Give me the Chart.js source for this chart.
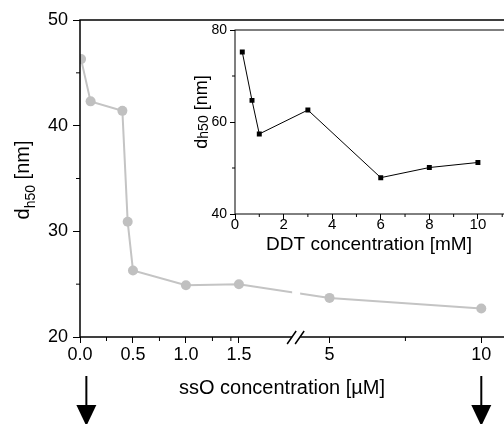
<!DOCTYPE html>
<html>
<head>
<meta charset="utf-8">
<script src="https://cdn.jsdelivr.net/npm/chart.js@4"></script>
<style>
html, body { margin: 0; padding: 0; background: #fff; }
#marco { position: relative; width: 504px; height: 424px; overflow: hidden; background: #fff; }
#principal { position: absolute; left: 0; top: 0; }
#recuadro { position: absolute; left: 180px; top: 10px; }
</style>
</head>
<body>
<div id="marco">
  <canvas id="principal" width="530" height="424"></canvas>
  <canvas id="recuadro" width="350" height="260"></canvas>
</div>
<script>
// grafica principal: ssO
const ssoConc = [0.01, 0.1, 0.4, 0.45, 0.5, 1.0, 1.5, 5, 10];
const ssoDh50 = [46.3, 42.3, 41.4, 30.9, 26.3, 24.9, 25.0, 23.7, 22.7];
const ssoTicks = [0, 0.5, 1, 1.5, 5, 10];
const ssoTickLabels = ['0.0', '0.5', '1.0', '1.5', '5', '10'];
const ssoMinor = [0.25, 0.75, 1.25, 1.75, 7.5];
const dhTicks = [20, 30, 40, 50];
const dhMinor = [25, 35, 45];
const flechasEn = [0.06, 10];

// recuadro: DDT
const ddtConc = [0.3, 0.7, 1, 3, 6, 8, 10];
const ddtDh50 = [75.2, 64.7, 57.4, 62.6, 47.9, 50.1, 51.2];
const ddtTicks = [0, 2, 4, 6, 8, 10];
const ddtMinor = [1, 3, 5, 7, 9, 11];
const ddtDhTicks = [40, 60, 80];
const ddtDhMinor = [50, 70];

Chart.defaults.font.family = "'Liberation Sans', Arial, sans-serif";
Chart.defaults.color = '#000';

// eje con corte entre 1.5 y 5
const tramo = { fin: 1.5, inicio: 5, uInicio: 2.355, escala: 0.2865, uCorte: 2.04 };
function aEje(x) {
    return x <= tramo.fin ? x : tramo.uInicio + (x - tramo.inicio) * tramo.escala;
}

function ticksMenores(ctx, escala, valores, largo, area) {
    valores.forEach(v => {
        ctx.beginPath();
        if (escala.isHorizontal()) {
            let px = escala.getPixelForValue(v);
            ctx.moveTo(px, area.bottom);
            ctx.lineTo(px, area.bottom + largo);
        } else {
            let py = escala.getPixelForValue(v);
            ctx.moveTo(area.left, py);
            ctx.lineTo(area.left - largo, py);
        }
        ctx.stroke();
    });
}

function tituloVertical(ctx, cx, cy, partes) {
    ctx.save();
    ctx.translate(cx, cy);
    ctx.rotate(-Math.PI / 2);
    ctx.textBaseline = 'alphabetic';
    let total = 0;
    partes.forEach(p => { ctx.font = p.size + "px 'Liberation Sans', Arial"; total += ctx.measureText(p.t).width; });
    let x = -total / 2;
    partes.forEach(p => {
        ctx.font = p.size + "px 'Liberation Sans', Arial";
        ctx.fillText(p.t, x, p.dy);
        x += ctx.measureText(p.t).width;
    });
    ctx.restore();
}

const decoPrincipal = {
    id: 'decoPrincipal',
    afterDraw(chart) {
        const { ctx, chartArea: a, scales } = chart;
        ctx.save();
        ctx.strokeStyle = '#000';
        ctx.fillStyle = '#000';
        ctx.lineWidth = 1.5;
        ctx.strokeRect(a.left, a.top, a.right - a.left, a.bottom - a.top);
        ctx.lineWidth = 1;
        ticksMenores(ctx, scales.x, ssoMinor.map(aEje), 4, a);
        ticksMenores(ctx, scales.y, dhMinor, 4, a);

        // corte del eje
        let pc = scales.x.getPixelForValue(tramo.uCorte);
        ctx.fillStyle = '#fff';
        ctx.fillRect(pc - 4, a.top + 2, 8, a.bottom - a.top - 4);
        ctx.fillRect(pc - 4, a.bottom - 2, 8, 4);
        ctx.lineWidth = 1.5;
        ctx.beginPath();
        ctx.moveTo(pc - 9, a.bottom + 7); ctx.lineTo(pc, a.bottom - 6);
        ctx.moveTo(pc - 1, a.bottom + 7); ctx.lineTo(pc + 8, a.bottom - 6);
        ctx.stroke();

        // flechas
        ctx.fillStyle = '#000';
        ctx.lineWidth = 2;
        flechasEn.forEach(f => {
            let px = scales.x.getPixelForValue(aEje(f));
            ctx.beginPath();
            ctx.moveTo(px, 376); ctx.lineTo(px, 406);
            ctx.stroke();
            ctx.beginPath();
            ctx.moveTo(px - 10, 405); ctx.lineTo(px + 10, 405); ctx.lineTo(px, 426);
            ctx.closePath();
            ctx.fill();
        });

        // titulos
        ctx.font = "20px 'Liberation Sans', Arial";
        ctx.textAlign = 'center';
        ctx.textBaseline = 'alphabetic';
        ctx.fillText('ssO concentration [µM]', 282, 394);
        ctx.textAlign = 'left';
        tituloVertical(ctx, 29, 180, [
            { t: 'd', size: 20, dy: 0 },
            { t: 'h50', size: 14, dy: 6 },
            { t: ' [nm]', size: 20, dy: 0 }
        ]);
        ctx.restore();
    }
};

const decoRecuadro = {
    id: 'decoRecuadro',
    afterDraw(chart) {
        const { ctx, chartArea: a, scales } = chart;
        ctx.save();
        ctx.strokeStyle = '#000';
        ctx.fillStyle = '#000';
        ctx.lineWidth = 1;
        ctx.strokeRect(a.left, a.top, a.right - a.left, a.bottom - a.top);
        ticksMenores(ctx, scales.x, ddtMinor, 3, a);
        ticksMenores(ctx, scales.y, ddtDhMinor, 3, a);
        ctx.font = "19px 'Liberation Sans', Arial";
        ctx.textAlign = 'center';
        ctx.textBaseline = 'alphabetic';
        ctx.fillText('DDT concentration [mM]', 189, 240);
        ctx.textAlign = 'left';
        tituloVertical(ctx, 27, 102, [
            { t: 'd', size: 18, dy: 0 },
            { t: 'h50', size: 14, dy: 1 },
            { t: ' [nm]', size: 18, dy: 0 }
        ]);
        ctx.restore();
    }
};

new Chart(document.getElementById('principal'), {
    type: 'scatter',
    data: {
        datasets: [{
            data: ssoConc.map((x, i) => ({ x: aEje(x), y: ssoDh50[i] })),
            showLine: true,
            borderColor: '#c4c4c4',
            backgroundColor: '#c0c0c0',
            borderWidth: 2,
            pointRadius: 5,
            pointHoverRadius: 5,
            pointBorderWidth: 0
        }]
    },
    options: {
        responsive: false,
        animation: false,
        events: [],
        layout: { padding: { left: 0, top: 20, right: 0, bottom: 0 } },
        plugins: { legend: { display: false }, tooltip: { enabled: false } },
        scales: {
            x: {
                type: 'linear', min: 0, max: 4.2,
                afterBuildTicks: s => { s.ticks = ssoTicks.map(v => ({ value: aEje(v) })); },
                afterFit: s => { s.height = 87; },
                ticks: { callback: (v, i) => ssoTickLabels[i], font: { size: 18 }, padding: 1, maxRotation: 0, autoSkip: false },
                grid: { drawOnChartArea: false, drawTicks: true, tickLength: 6, color: '#000', lineWidth: 1 },
                border: { display: false }
            },
            y: {
                type: 'linear', min: 20, max: 50,
                afterBuildTicks: s => { s.ticks = dhTicks.map(v => ({ value: v })); },
                afterFit: s => { s.width = 80; },
                ticks: { font: { size: 18 }, padding: 5 },
                grid: { drawOnChartArea: false, drawTicks: true, tickLength: 7, color: '#000', lineWidth: 1 },
                border: { display: false }
            }
        }
    },
    plugins: [decoPrincipal]
});

new Chart(document.getElementById('recuadro'), {
    type: 'scatter',
    data: {
        datasets: [{
            data: ddtConc.map((x, i) => ({ x: x, y: ddtDh50[i] })),
            showLine: true,
            borderColor: '#000',
            backgroundColor: '#000',
            borderWidth: 1,
            pointStyle: 'rect',
            pointRadius: 3.5,
            pointHoverRadius: 3.5,
            pointBorderWidth: 0
        }]
    },
    options: {
        responsive: false,
        animation: false,
        events: [],
        layout: { padding: { left: 0, top: 20, right: 0, bottom: 0 } },
        plugins: { legend: { display: false }, tooltip: { enabled: false } },
        scales: {
            x: {
                type: 'linear', min: 0, max: 12,
                afterBuildTicks: s => { s.ticks = ddtTicks.map(v => ({ value: v })); },
                afterFit: s => { s.height = 56; },
                ticks: { font: { size: 15 }, padding: -3, maxRotation: 0, autoSkip: false },
                grid: { drawOnChartArea: false, drawTicks: true, tickLength: 5, color: '#000', lineWidth: 1 },
                border: { display: false }
            },
            y: {
                type: 'linear', min: 40, max: 80,
                afterBuildTicks: s => { s.ticks = ddtDhTicks.map(v => ({ value: v })); },
                afterFit: s => { s.width = 55; },
                ticks: { font: { size: 14 }, padding: 3 },
                grid: { drawOnChartArea: false, drawTicks: true, tickLength: 5, color: '#000', lineWidth: 1 },
                border: { display: false }
            }
        }
    },
    plugins: [decoRecuadro]
});
</script>
</body>
</html>
